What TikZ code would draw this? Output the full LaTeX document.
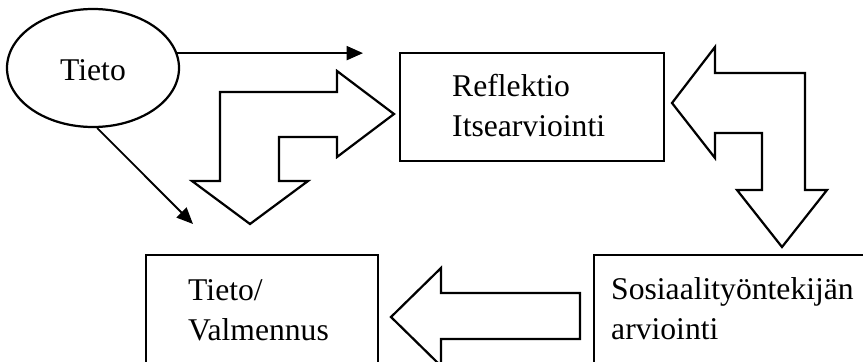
\documentclass[tikz,border=0pt]{standalone}
\usepackage{fontspec}
\setmainfont{Liberation Serif}
\usetikzlibrary{calc,arrows.meta,shapes.geometric}

\begin{document}
\begin{tikzpicture}[x=0.03cm,y=-0.03cm,
	txt/.style={font=\fontsize{27}{34}\selectfont,inner sep=0pt,align=left},
	box/.style={draw,line width=1.9pt,rectangle,inner sep=0pt},
	conn/.style={line width=1.6pt,-{Triangle[length=14pt,width=12pt]}},
	blockarrow/.style={draw,line width=1.9pt,fill=white,line join=miter}]
		\useasboundingbox (0,0) rectangle (863,362);
		\clip (0,0) rectangle (863,362);
		\node[draw,ellipse,line width=1.9pt,minimum width=5.16cm,minimum height=3.54cm,inner sep=0pt] (tieto) at (93,68) {};
		\node[txt,anchor=base] (tietotxt) at (93,80) {Tieto};
		\node[box,minimum width=7.92cm,minimum height=3.24cm] (refl) at (532,107) {};
		\node[box,minimum width=6.96cm,minimum height=4.5cm] (valm) at (262,330) {};
		\node[box,minimum width=8.58cm,minimum height=4.5cm] (sos) at (737,330) {};
		\node[txt,anchor=base west] (refltxt) at (452,136) {Reflektio\\Itsearviointi};
		\node[txt,anchor=base west] (valmtxt) at (188,340) {Tieto/\\Valmennus};
		\node[txt,anchor=base west] (sostxt) at (611,339) {Sosiaalityöntekijän\\arviointi};
		
		\coordinate (c1) at (363,54);
		\coordinate (c2) at (193,224);
		\draw[conn] (tieto.10) -- (tieto.10 -| c1);
		\draw[conn] (tieto.274) -- (c2);
		
		\draw[blockarrow] (220,92) -- (337,92) -- (337,71) -- (394,114) -- (337,157) -- (337,137) -- (279,137) -- (279,181) -- (308,181) -- (250,224) -- (192,181) -- (220,181) -- cycle;
		\draw[blockarrow] (672,103) -- (715,47) -- (715,73) -- (805,73) -- (805,190) -- (827,190) -- (782,247) -- (737,190) -- (762,190) -- (762,133) -- (715,133) -- (715,158) -- cycle;
		\draw[blockarrow] (391,317) -- (441,268) -- (441,293) -- (580,293) -- (580,339) -- (441,339) -- (441,366) -- cycle;
		\end{tikzpicture}
\end{document}
